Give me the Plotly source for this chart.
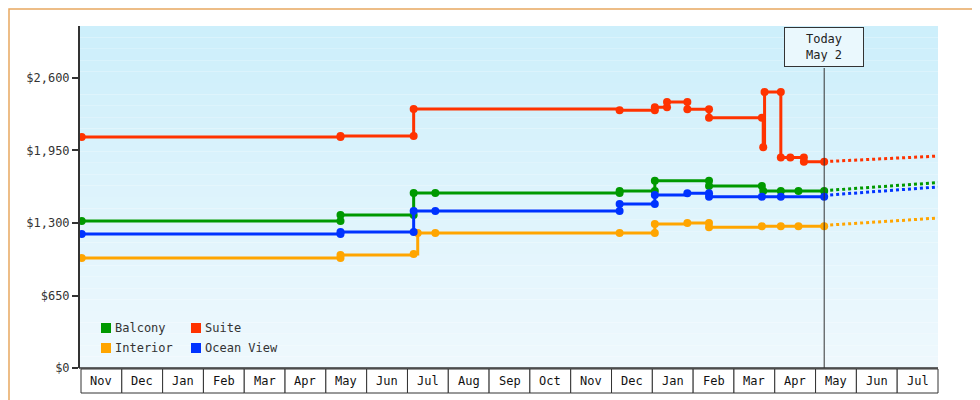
import plotly.graph_objects as go

months = ["Nov","Dec","Jan","Feb","Mar","Apr","May","Jun","Jul","Aug","Sep","Oct",
          "Nov","Dec","Jan","Feb","Mar","Apr","May","Jun","Jul"]
y_ticks = [0, 650, 1300, 1950, 2600]
y_tick_labels = ["$0", "$650", "$1,300", "$1,950", "$2,600"]

balcony_x = ["2023-11-01","2024-05-10","2024-05-10","2024-07-03","2024-07-03","2024-07-19","2024-12-02","2024-12-02",
             "2024-12-28","2024-12-28","2025-02-06","2025-02-06","2025-03-17","2025-03-18","2025-03-31","2025-04-13","2025-05-02"]
balcony_y = [1318,1318,1372,1372,1569,1569,1569,1587,1587,1679,1679,1632,1632,1587,1587,1587,1587]
suite_x = ["2023-11-01","2024-05-10","2024-05-10","2024-07-03","2024-07-03","2024-12-02","2024-12-28","2024-12-28","2025-01-06",
           "2025-01-06","2025-01-21","2025-01-21","2025-02-06","2025-02-06","2025-03-17","2025-03-18","2025-03-19","2025-03-31",
           "2025-03-31","2025-04-07","2025-04-17","2025-04-17","2025-05-02"]
suite_y = [2071,2071,2080,2080,2322,2310,2310,2337,2337,2385,2385,2319,2319,2244,2244,1978,2475,2475,1886,1886,1886,1850,1850]
interior_x = ["2023-11-01","2024-05-10","2024-05-10","2024-07-03","2024-07-06","2024-07-19","2024-12-02","2024-12-28","2024-12-28",
              "2025-01-21","2025-02-06","2025-02-06","2025-03-17","2025-03-31","2025-04-13","2025-05-02"]
interior_y = [986,986,1013,1022,1210,1210,1210,1210,1291,1300,1300,1261,1270,1270,1270,1270]
ocean_x = ["2023-11-01","2024-05-10","2024-05-10","2024-07-03","2024-07-03","2024-07-19","2024-12-02","2024-12-02","2024-12-28",
           "2024-12-28","2025-01-21","2025-02-06","2025-02-06","2025-03-17","2025-03-31","2025-05-02"]
ocean_y = [1201,1201,1219,1219,1407,1407,1407,1470,1470,1551,1566,1566,1536,1536,1536,1536]

fc_x = ["2025-05-02","2025-06-01","2025-07-01","2025-07-25"]
fc_balcony = [1590,1615,1640,1662]
fc_suite = [1850,1870,1885,1900]
fc_interior = [1279,1300,1325,1345]
fc_ocean = [1548,1575,1600,1623]

colors = {"Balcony":"#009900","Suite":"#ff3300","Interior":"#ffa500","Ocean View":"#0033ff"}
series = [("Balcony",balcony_x,balcony_y,fc_balcony),("Suite",suite_x,suite_y,fc_suite),
          ("Interior",interior_x,interior_y,fc_interior),("Ocean View",ocean_x,ocean_y,fc_ocean)]

L, R, T, B = 71, 930, 18, 360
W, H = R-L, B-T
def px(x): return (x-L)/W
def py(y): return (B-y)/H

fig = go.Figure()
for name, xs, ys, fc in series:
    c = colors[name]
    fig.add_trace(go.Scatter(x=xs, y=ys, mode="lines+markers", line=dict(color=c, width=3, shape="hv"),
                             marker=dict(color=c, size=8, symbol="circle"), showlegend=False, hoverinfo="skip"))
    fig.add_trace(go.Scatter(x=fc_x, y=fc, mode="lines", line=dict(color=c, width=3, dash="dot"),
                             showlegend=False, hoverinfo="skip"))

shapes = []
n = 30
for i in range(n):
    t = i/n
    r = int(205 + (240-205)*t); g = int(239 + (249-239)*t); b = int(251 + (254-251)*t)
    shapes.append(dict(type="rect", xref="paper", yref="paper", x0=0, x1=1, y0=1-(i+1)/n, y1=1-i/n,
                       fillcolor=f"rgb({r},{g},{b})", line=dict(width=0), layer="below"))
shapes.append(dict(type="rect", xref="paper", yref="paper", x0=px(1), x1=px(979), y0=py(399), y1=py(1),
                   line=dict(color="#e8a860", width=1.5)))
shapes.append(dict(type="line", xref="paper", yref="paper", x0=0, x1=0, y0=0, y1=1, line=dict(color="#333", width=2)))
shapes.append(dict(type="line", xref="paper", yref="paper", x0=0, x1=1, y0=0, y1=0, line=dict(color="#333", width=1.5)))
annotations = []
bw = (930-73)/len(months)
for i, m in enumerate(months):
    x0 = 73 + i*bw; x1 = x0 + bw
    shapes.append(dict(type="rect", xref="paper", yref="paper", x0=px(x0), x1=px(x1), y0=py(385), y1=py(361),
                       line=dict(color="#333", width=1), fillcolor="white"))
    annotations.append(dict(xref="paper", yref="paper", x=px((x0+x1)/2), y=py(373), xanchor="center", yanchor="middle",
                            text=m, showarrow=False, font=dict(family="DejaVu Sans Mono", size=12, color="#111")))
shapes.append(dict(type="line", xref="x", yref="paper", x0="2025-05-02", x1="2025-05-02", y0=0, y1=py(60),
                   line=dict(color="#333", width=1)))
annotations.append(dict(xref="x", yref="paper", x="2025-05-02", y=py(39), xanchor="center", yanchor="middle",
                        text="Today<br>May 2", showarrow=False,
                        font=dict(family="DejaVu Sans Mono", size=12, color="#222"), bgcolor="#eaf8fd",
                        bordercolor="#333", borderwidth=1, borderpad=4, width=70))
leg = [("Balcony",93,320),("Suite",183,320),("Interior",93,340),("Ocean View",183,340)]
for name, lx, ly in leg:
    shapes.append(dict(type="rect", xref="paper", yref="paper", x0=px(lx), x1=px(lx+10), y0=py(ly+5), y1=py(ly-5),
                       fillcolor=colors[name], line=dict(width=0)))
    annotations.append(dict(xref="paper", yref="paper", x=px(lx+12), y=py(ly), xanchor="left", yanchor="middle",
                            text=name, showarrow=False, font=dict(family="DejaVu Sans Mono", size=12, color="#333")))

fig.update_layout(
    width=980, height=400, margin=dict(l=L, r=980-R, t=T, b=400-B, autoexpand=False),
    paper_bgcolor="white", plot_bgcolor="rgba(0,0,0,0)",
    shapes=shapes, annotations=annotations,
    xaxis=dict(range=["2023-10-30","2025-07-25"], showticklabels=False, showgrid=False, zeroline=False, ticks=""),
    yaxis=dict(range=[0, 3066], tickvals=y_ticks, ticktext=y_tick_labels, showgrid=False, zeroline=False,
               ticks="outside", ticklen=6, tickcolor="#333", tickwidth=2,
               tickfont=dict(family="DejaVu Sans Mono", size=12, color="#333")),
)
fig.write_html("out.html")
